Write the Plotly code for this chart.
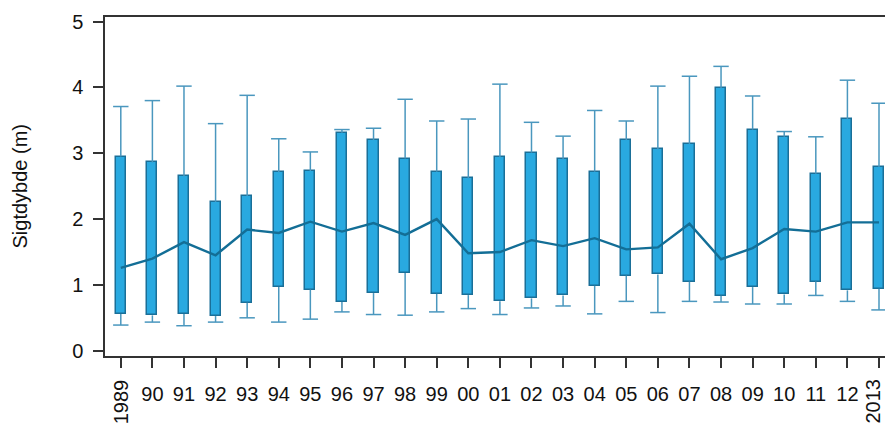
import plotly.graph_objects as go

# Secchi depth (Sigtdybde) per year: whisker ends, box quartiles and median
years = ["1989", "90", "91", "92", "93", "94", "95", "96", "97", "98", "99", "00",
         "01", "02", "03", "04", "05", "06", "07", "08", "09", "10", "11", "12", "2013"]
lower = [0.39, 0.435, 0.38, 0.435, 0.50, 0.435, 0.48, 0.59, 0.55, 0.54, 0.59, 0.64,
         0.55, 0.65, 0.68, 0.56, 0.75, 0.58, 0.75, 0.74, 0.71, 0.71, 0.84, 0.75, 0.62]
q1 = [0.557, 0.537, 0.557, 0.527, 0.73, 0.967, 0.93, 0.74, 0.876, 1.18, 0.865, 0.845,
      0.75, 0.795, 0.84, 0.986, 1.14, 1.16, 1.05, 0.835, 0.967, 0.856, 1.05, 0.917, 0.94]
median = [1.26, 1.40, 1.65, 1.45, 1.84, 1.79, 1.96, 1.81, 1.94, 1.76, 2.00, 1.48,
          1.50, 1.68, 1.59, 1.71, 1.54, 1.57, 1.93, 1.39, 1.56, 1.85, 1.81, 1.95, 1.95]
q3 = [2.95, 2.86, 2.65, 2.26, 2.35, 2.71, 2.73, 3.31, 3.20, 2.92, 2.72, 2.62,
      2.94, 3.01, 2.91, 2.72, 3.20, 3.06, 3.14, 3.99, 3.36, 3.25, 2.69, 3.52, 2.79]
upper = [3.71, 3.80, 4.02, 3.45, 3.88, 3.22, 3.02, 3.36, 3.38, 3.82, 3.49, 3.52,
         4.05, 3.47, 3.26, 3.65, 3.49, 4.02, 4.17, 4.32, 3.87, 3.33, 3.25, 4.11, 3.76]
yticks = [0, 1, 2, 3, 4, 5]

BOX_FILL = "#29A9E0"
BOX_EDGE = "#1A6F98"
WHISKER = "#4A97BE"
MEDIAN_LINE = "#136E96"
AXIS = "#333333"
TEXT = "#111111"
FONT = "Liberation Sans, Arial, sans-serif"

pos = list(range(len(years)))

# whisker segments: q3 -> upper and q1 -> lower
wx, wy = [], []
for i in pos:
    wx += [i, i, None, i, i, None]
    wy += [q3[i], upper[i], None, q1[i], lower[i], None]

fig = go.Figure()

# boxes (interquartile range)
fig.add_trace(go.Bar(
    x=pos, y=[b - a for a, b in zip(q1, q3)], base=q1, width=0.32,
    marker=dict(color=BOX_FILL, line=dict(color=BOX_EDGE, width=1.5)),
    hoverinfo="skip", showlegend=False,
))

# whiskers
fig.add_trace(go.Scatter(
    x=wx, y=wy, mode="lines", line=dict(color=WHISKER, width=1.5),
    hoverinfo="skip", showlegend=False,
))

# whisker caps
fig.add_trace(go.Scatter(
    x=pos + pos, y=upper + lower, mode="markers",
    marker=dict(symbol="line-ew", size=11, color=WHISKER,
                line=dict(color=WHISKER, width=1.5)),
    hoverinfo="skip", showlegend=False,
))

# median line
fig.add_trace(go.Scatter(
    x=pos, y=median, mode="lines", line=dict(color=MEDIAN_LINE, width=2.4),
    showlegend=False,
))

# tick labels: end years are written vertically, the rest horizontally
ticktext = ["" if len(y) == 4 else y for y in years]
annotations = []
last = len(years) - 1
for i, y in enumerate(years):
    if len(y) == 4:
        if i == last:
            # keep the final year inside the right page edge
            pos_kw = dict(x=1, xref="paper", xanchor="right")
        else:
            pos_kw = dict(x=i, xref="x", xanchor="center")
        annotations.append(dict(
            y=0, yref="paper", yshift=-21,
            text=y, textangle=-90, showarrow=False, yanchor="top",
            font=dict(family=FONT, size=20, color=TEXT), **pos_kw,
        ))

annotations.append(dict(
    x=-(105 - 19) / 780, xref="paper", y=0.5, yref="paper",
    text="Sigtdybde (m)", textangle=-90, showarrow=False,
    xanchor="center", yanchor="middle",
    font=dict(family=FONT, size=20, color=TEXT),
))

fig.update_layout(
    width=885, height=424,
    margin=dict(l=105, r=0, t=17, b=68),
    paper_bgcolor="white", plot_bgcolor="white",
    font=dict(family=FONT, size=20, color=TEXT),
    bargap=0,
    annotations=annotations,
    xaxis=dict(
        range=[-0.5, 24.19], tickmode="array", tickvals=pos, ticktext=ticktext,
        showgrid=False, zeroline=False,
        showline=True, mirror=True, linecolor=AXIS, linewidth=1.5,
        ticks="outside", ticklen=10, tickwidth=1.5, tickcolor=AXIS,
        ticklabelstandoff=9, tickangle=0,
    ),
    yaxis=dict(
        range=[-0.08, 5.07], tickmode="array", tickvals=yticks,
        showgrid=False, zeroline=False,
        showline=True, mirror=False, linecolor=AXIS, linewidth=1.5,
        ticks="outside", ticklen=10, tickwidth=1.5, tickcolor=AXIS,
        ticklabelstandoff=6,
    ),
)

fig.write_html("out.html")
